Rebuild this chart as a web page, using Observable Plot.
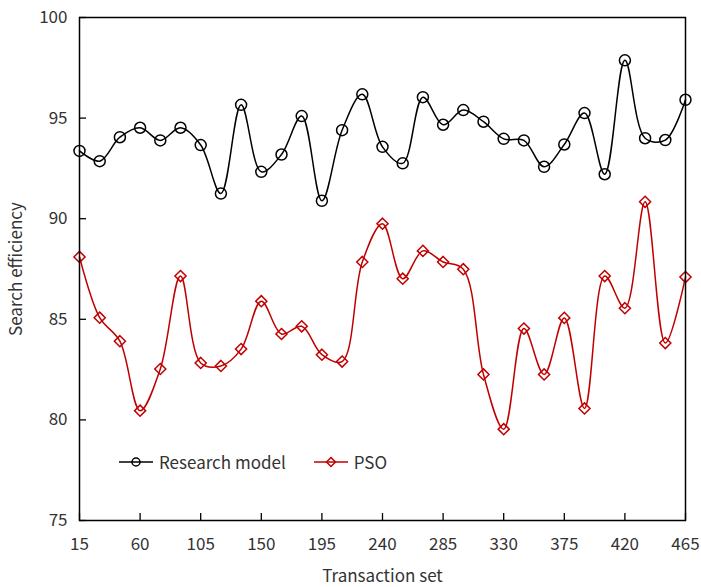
<!DOCTYPE html>
<html>
<head>
<meta charset="utf-8">
<script src="https://cdn.jsdelivr.net/npm/d3@7"></script>
<script src="https://cdn.jsdelivr.net/npm/@observablehq/plot@0.6"></script>
<style>
  body { margin: 0; background: #fff; }
  #wrap { position: relative; width: 701px; height: 587px; font-family: "Noto Sans CJK SC", "Noto Sans", sans-serif; }
  #legend { position: absolute; left: 119px; top: 449px; font-size: 17px; color: #333; display: flex; align-items: center; }
  #legend .item { display: flex; align-items: center; margin-right: 6px; }
  #legend svg { margin-right: 6px; }
</style>
</head>
<body>
<div id="wrap"></div>
<script>
const transactionSet = [15,30,45,60,75,90,105,120,135,150,165,180,195,210,225,240,255,270,285,300,315,330,345,360,375,390,405,420,435,450,465];
const researchModel = [93.37,92.86,94.05,94.52,93.89,94.52,93.66,91.25,95.66,92.33,93.19,95.10,90.89,94.40,96.18,93.57,92.75,96.04,94.67,95.40,94.82,93.97,93.89,92.58,93.69,95.25,92.21,97.87,94.00,93.91,95.91];
const pso = [88.10,85.08,83.91,80.46,82.53,87.15,82.83,82.68,83.52,85.90,84.27,84.65,83.24,82.90,87.85,89.75,87.02,88.40,87.85,87.49,82.26,79.54,84.54,82.26,85.07,80.57,87.15,85.55,90.84,83.82,87.10];
const xTicks = [15,60,105,150,195,240,285,330,375,420,465];
const yTicks = [75,80,85,90,95,100];
const seriesNames = ["Research model", "PSO"];
const colors = ["#000000", "#c00000"];

const rowsA = transactionSet.map((x, i) => ({x, y: researchModel[i]}));
const rowsB = transactionSet.map((x, i) => ({x, y: pso[i]}));

const chart = Plot.plot({
  width: 701,
  height: 587,
  marginLeft: 79,
  marginRight: 16,
  marginTop: 17,
  marginBottom: 67,
  style: {fontFamily: '"Noto Sans CJK SC", "Noto Sans", sans-serif', fontSize: "17px", color: "#333", background: "#fff"},
  x: {domain: [15, 465]},
  y: {domain: [75, 100]},
  marks: [
    Plot.axisX({ticks: xTicks, tickSize: -7, tickFormat: () => "", label: null, stroke: "#000", strokeWidth: 1.3}),
    Plot.axisX({ticks: xTicks, tickSize: 0, tickPadding: 17, label: "Transaction set", labelAnchor: "center", labelArrow: "none", labelOffset: 61, fill: "#333"}),
    Plot.axisY({ticks: yTicks, tickSize: -7, tickFormat: () => "", label: null, stroke: "#000", strokeWidth: 1.3}),
    Plot.axisY({ticks: yTicks, tickSize: 0, tickPadding: 12, label: "Search efficiency", labelAnchor: "center", labelArrow: "none", labelOffset: 70, fill: "#333"}),
    Plot.line(rowsA, {x: "x", y: "y", curve: "catmull-rom", stroke: colors[0], strokeWidth: 1.5}),
    Plot.dot(rowsA, {x: "x", y: "y", r: 5.5, stroke: colors[0], strokeWidth: 1.5, fill: "none"}),
    Plot.line(rowsB, {x: "x", y: "y", curve: "catmull-rom", stroke: colors[1], strokeWidth: 1.5}),
    Plot.dot(rowsB, {x: "x", y: "y", symbol: "diamond2", r: 5, stroke: colors[1], strokeWidth: 1.5, fill: "none"}),
    Plot.frame({stroke: "#000", strokeWidth: 1.5})
  ]
});

const wrap = document.getElementById("wrap");
wrap.appendChild(chart);

const legend = document.createElement("div");
legend.id = "legend";
seriesNames.forEach((name, i) => {
  const item = document.createElement("div");
  item.className = "item";
  if (i > 0) item.style.marginLeft = "22px";
  const marker = i === 0
    ? `<circle cx="17" cy="9" r="4" fill="none" stroke="${colors[i]}" stroke-width="1.5"/>`
    : `<path d="M17,4.5 L21.5,9 L17,13.5 L12.5,9 Z" fill="none" stroke="${colors[i]}" stroke-width="1.5"/>`;
  item.innerHTML = `<svg width="34" height="18"><line x1="0" y1="9" x2="34" y2="9" stroke="${colors[i]}" stroke-width="1.5"/>${marker}</svg><span>${name}</span>`;
  legend.appendChild(item);
});
wrap.appendChild(legend);
</script>
</body>
</html>
